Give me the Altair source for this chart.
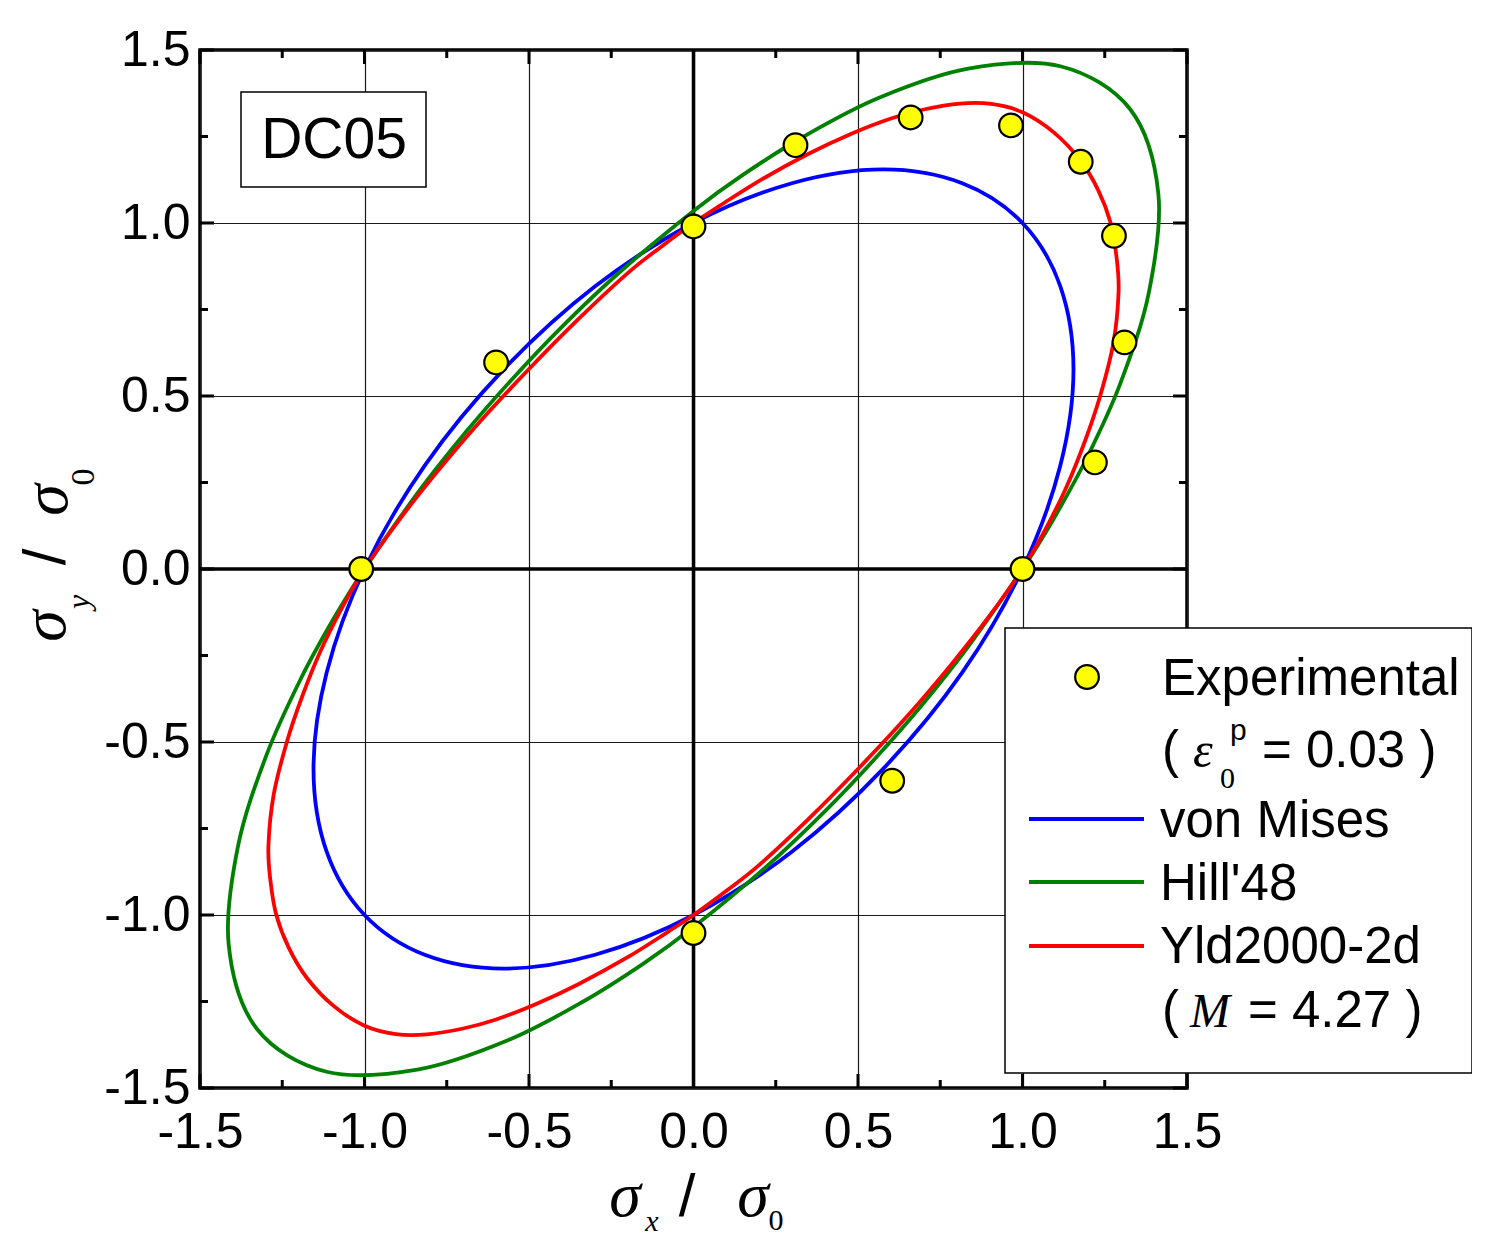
import altair as alt
import pandas as pd

# ---------------- data ----------------
models = ["von Mises", "Hill'48", "Yld2000-2d"]
colors = ["#0000ff", "#008000", "#ff0000"]

vm_x = [1.000, 0.817, 0.577, 0.299, 0.000, -0.299, -0.577, -0.817, -1.000, -1.115, -1.155, -1.115,
        -1.000, -0.817, -0.577, -0.299, 0.000, 0.299, 0.577, 0.817, 1.000, 1.115, 1.155, 1.115]
vm_y = [1.000, 1.115, 1.155, 1.115, 1.000, 0.817, 0.577, 0.299, 0.000, -0.299, -0.577, -0.817,
        -1.000, -1.115, -1.155, -1.115, -1.000, -0.817, -0.577, -0.299, 0.000, 0.299, 0.577, 0.817]

hill_x = [1.000, 1.094, 1.195, 1.298, 1.384, 1.413, 1.328, 1.115, 0.835, 0.564, 0.335, 0.150,
          0.000, -0.229, -0.403, -0.550, -0.690, -0.835,
          -1.000, -1.094, -1.195, -1.298, -1.384, -1.413, -1.328, -1.115, -0.835, -0.564, -0.335, -0.150,
          0.000, 0.229, 0.403, 0.550, 0.690, 0.835]
hill_y = [0.000, 0.144, 0.320, 0.538, 0.799, 1.084, 1.328, 1.453, 1.446, 1.362, 1.250, 1.139,
          1.035, 0.854, 0.697, 0.550, 0.398, 0.224,
          0.000, -0.144, -0.320, -0.538, -0.799, -1.084, -1.328, -1.453, -1.446, -1.362, -1.250, -1.139,
          -1.035, -0.854, -0.697, -0.550, -0.398, -0.224]

yld_x = [1.000, 1.070, 1.134, 1.190, 1.236, 1.276, 1.292, 1.286, 1.268, 1.230, 1.175, 1.095,
         1.000, 0.905, 0.810, 0.700, 0.600, 0.480, 0.350, 0.200, 0.080, 0.000, -0.100, -0.200,
         -0.350, -0.500, -0.650, -0.780, -0.900,
         -1.000, -1.070, -1.134, -1.190, -1.236, -1.276, -1.292, -1.286, -1.268, -1.230, -1.175, -1.095,
         -1.000, -0.905, -0.810, -0.700, -0.600, -0.480, -0.350, -0.200, -0.080, 0.000, 0.100, 0.200,
         0.350, 0.500, 0.650, 0.780, 0.900]
yld_y = [0.000, 0.115, 0.238, 0.370, 0.500, 0.652, 0.800, 0.900, 1.000, 1.095, 1.182, 1.262,
         1.320, 1.344, 1.345, 1.328, 1.302, 1.258, 1.200, 1.122, 1.050, 1.000, 0.930, 0.855,
         0.722, 0.578, 0.425, 0.280, 0.135,
         0.000, -0.115, -0.238, -0.370, -0.500, -0.652, -0.800, -0.900, -1.000, -1.095, -1.182, -1.262,
         -1.320, -1.344, -1.345, -1.328, -1.302, -1.258, -1.200, -1.122, -1.050, -1.000, -0.930, -0.855,
         -0.722, -0.578, -0.425, -0.280, -0.135]

exp_x = [-1.01, 0.00, 0.00, 1.00, -0.60, 0.31, 0.66, 0.965, 1.177, 1.278, 1.31, 1.22, 0.604]
exp_y = [0.00, 0.99, -1.052, 0.00, 0.597, 1.225, 1.305, 1.282, 1.177, 0.963, 0.655, 0.308, -0.612]

major_ticks = [-1.5, -1.0, -0.5, 0.0, 0.5, 1.0, 1.5]
minor_ticks = [-1.25, -0.75, -0.25, 0.25, 0.75, 1.25]

# ---------------- tables ----------------
rows = []
for name, xs_, ys_ in [(models[0], vm_x, vm_y), (models[1], hill_x, hill_y), (models[2], yld_x, yld_y)]:
    for i, (a, b) in enumerate(zip(xs_, ys_)):
        rows.append({"model": name, "i": i, "x": a, "y": b})
curves = pd.DataFrame(rows)
exp_df = pd.DataFrame({"x": exp_x, "y": exp_y})
major_df = pd.DataFrame({"v": major_ticks})
minor_df = pd.DataFrame({"v": minor_ticks})
zero_df = pd.DataFrame({"z": [0.0]})

W, H = 987, 1038
SANS = "Liberation Sans"
SERIF = "Liberation Serif"

xs = alt.Scale(domain=[-1.5, 1.5], nice=False, zero=False)
ys = alt.Scale(domain=[-1.5, 1.5], nice=False, zero=False)
lab = "datum.value < 0 ? '-' + format(-datum.value, '.1f') : format(datum.value, '.1f')"
xaxis = alt.Axis(values=major_ticks, labelExpr=lab, labelFont=SANS, labelFontSize=50,
                 labelColor="black", labelPadding=19, ticks=False, domain=False, grid=True,
                 gridColor="#1a1a1a", gridWidth=1.2, title=None, labelFlush=False,
                 labelOverlap=False)
yaxis = alt.Axis(values=major_ticks, labelExpr=lab, labelFont=SANS, labelFontSize=50,
                 labelColor="black", labelPadding=10, ticks=False, domain=False, grid=True,
                 gridColor="#1a1a1a", gridWidth=1.2, title=None, labelFlush=False,
                 labelOverlap=False)


def X(f):
    return alt.X(f, type="quantitative", scale=xs, axis=xaxis)


def Y(f):
    return alt.Y(f, type="quantitative", scale=ys, axis=yaxis)


one = alt.Data(values=[{}])

layers = []

# zero lines
layers.append(alt.Chart(zero_df).mark_rule(color="black", strokeWidth=3.5).encode(x=X("z")))
layers.append(alt.Chart(zero_df).mark_rule(color="black", strokeWidth=3.5).encode(y=Y("z")))

# inward ticks on all four sides
for df, ln in [(major_df, 14), (minor_df, 8)]:
    layers.append(alt.Chart(df).mark_rule(color="black", strokeWidth=3).encode(
        x=X("v"), y=alt.value(H), y2=alt.value(H - ln)))
    layers.append(alt.Chart(df).mark_rule(color="black", strokeWidth=3).encode(
        x=X("v"), y=alt.value(0), y2=alt.value(ln)))
    layers.append(alt.Chart(df).mark_rule(color="black", strokeWidth=3).encode(
        y=Y("v"), x=alt.value(0), x2=alt.value(ln)))
    layers.append(alt.Chart(df).mark_rule(color="black", strokeWidth=3).encode(
        y=Y("v"), x=alt.value(W), x2=alt.value(W - ln)))

# yield loci
layers.append(alt.Chart(curves).mark_line(interpolate="cardinal-closed", strokeWidth=3.8).encode(
    x=X("x"), y=Y("y"),
    color=alt.Color("model:N", scale=alt.Scale(domain=models, range=colors), legend=None),
    order=alt.Order("i:Q")))

# experimental points
layers.append(alt.Chart(exp_df).mark_point(filled=True, fill="#ffff00", stroke="black",
                                            strokeWidth=2.2, size=560, shape="circle",
                                            opacity=1).encode(x=X("x"), y=Y("y")))


def txt(s, x, y, size, font=SANS, style="normal", angle=0, align="left", baseline="alphabetic"):
    return alt.Chart(one).mark_text(text=s, fontSize=size, font=font, fontStyle=style,
                                    angle=angle, align=align, baseline=baseline,
                                    color="black").encode(x=alt.value(x), y=alt.value(y))


def box(x1, y1, x2, y2):
    return alt.Chart(one).mark_rect(fill="white", stroke="black", strokeWidth=1.5).encode(
        x=alt.value(x1), x2=alt.value(x2), y=alt.value(y1), y2=alt.value(y2))


# DC05 label box
layers.append(box(41, 42, 226, 137))
layers.append(txt("DC05", 134, 108, 57, align="center"))

# legend
layers.append(box(805, 578, 1272, 1023))
layers.append(alt.Chart(one).mark_point(filled=True, fill="#ffff00", stroke="black",
                                         strokeWidth=2.2, size=560, shape="circle",
                                         opacity=1).encode(x=alt.value(887), y=alt.value(627)))
layers.append(txt("Experimental", 962, 645, 51))
layers.append(txt("(", 962, 717, 51))
layers.append(txt("ε", 993, 717, 50, font=SERIF, style="italic"))
layers.append(txt("0", 1020, 738, 30, font=SERIF))
layers.append(txt("p", 1030, 690, 30))
layers.append(txt("= 0.03 )", 1062, 717, 51))
for yv, col, name, base in [(769, colors[0], "von Mises", 787), (832, colors[1], "Hill'48", 850),
                            (896, colors[2], "Yld2000-2d", 913)]:
    layers.append(alt.Chart(one).mark_rule(color=col, strokeWidth=3.8).encode(
        x=alt.value(829), x2=alt.value(944), y=alt.value(yv)))
    layers.append(txt(name, 960, base, 51))
layers.append(txt("(", 962, 977, 51))
layers.append(txt("M", 990, 977, 48, font=SERIF, style="italic"))
layers.append(txt("= 4.27 )", 1048, 977, 51))

# axis titles
layers.append(txt("σ", 425, 1166, 64, font=SERIF, style="italic", align="center"))
layers.append(txt("x", 452, 1181, 30, font=SERIF, style="italic", align="center"))
layers.append(txt("/", 487, 1166, 60, align="center"))
layers.append(txt("σ", 553, 1166, 64, font=SERIF, style="italic", align="center"))
layers.append(txt("0", 576, 1180, 30, font=SERIF, align="center"))

layers.append(txt("σ", -135, 576, 64, font=SERIF, style="italic", angle=270, align="center"))
layers.append(txt("y", -111, 552, 32, font=SERIF, style="italic", angle=270, align="center"))
layers.append(txt("/", -135, 507, 60, angle=270, align="center"))
layers.append(txt("σ", -133, 450, 64, font=SERIF, style="italic", angle=270, align="center"))
layers.append(txt("0", -106, 427, 34, font=SERIF, angle=270, align="center"))

chart = alt.layer(*layers).properties(
    width=W, height=H,
    autosize=alt.AutoSizeParams(type="none"),
    padding={"left": 192, "top": 42, "right": 285, "bottom": 150},
    background="white",
).configure_view(stroke="black", strokeWidth=3.5)

chart.save("out.html", embed_options={"renderer": "svg", "actions": False})
